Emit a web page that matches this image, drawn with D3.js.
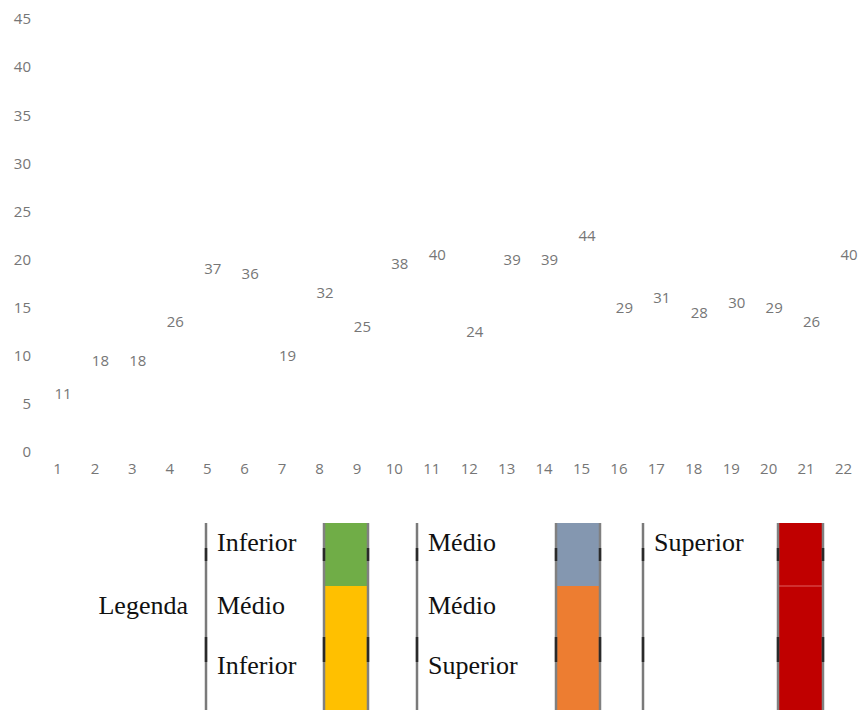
<!DOCTYPE html>
<html>
<head>
<meta charset="utf-8">
<script src="https://cdn.jsdelivr.net/npm/d3@7"></script>
<style>
  body { margin: 0; background: #fff; }
  svg { display: block; }
</style>
</head>
<body>
<svg id="chart" width="868" height="710"></svg>
<script>
// categories on the x axis
var categories = ["1","2","3","4","5","6","7","8","9","10","11","12","13","14","15","16","17","18","19","20","21","22"];
// plotted position of each point
var pointValues = [5.5, 9, 9, 13, 18.5, 18, 9.5, 16, 12.5, 19, 20, 12, 19.5, 19.5, 22, 14.5, 15.5, 14, 15, 14.5, 13, 20];
// text shown as the data label
var pointLabels = ["11","18","18","26","37","36","19","32","25","38","40","24","39","39","44","29","31","28","30","29","26","40"];
// y axis ticks
var yTicks = [0, 5, 10, 15, 20, 25, 30, 35, 40, 45];

// legend: column texts and bar colours (top, bottom)
var legendTitle = "Legenda";
var legendTexts = [
    ["Inferior", "Médio", "Inferior"],
    ["Médio", "Médio", "Superior"],
    ["Superior", "", ""]
];
var legendColors = [
    ["#70ad47", "#ffc000"],
    ["#8497b0", "#ed7d31"],
    ["#c00000", "#c00000"]
];

chart();

function chart() {
    var svg = d3.select("#chart");

    var x = d3.scalePoint()
        .domain(categories)
        .range([57, 843]);

    var y = d3.scaleLinear()
        .domain([0, 45])
        .range([452, 19]);

    // y axis, only the labels are visible
    var yAxis = svg.append("g")
        .attr("transform", "translate(31,0)")
        .call(d3.axisLeft(y).tickValues(yTicks).tickSize(0).tickPadding(0));
    yAxis.select(".domain").remove();
    yAxis.selectAll("text")
        .attr("font-family", "Open Sans, sans-serif")
        .attr("font-size", 15)
        .attr("fill", "#767676");

    // x axis, labels only
    var xAxis = svg.append("g")
        .attr("transform", "translate(0,463)")
        .call(d3.axisBottom(x).tickSize(0).tickPadding(0));
    xAxis.select(".domain").remove();
    xAxis.selectAll("text")
        .attr("font-family", "Open Sans, sans-serif")
        .attr("font-size", 15)
        .attr("fill", "#767676");

    // data labels (markers are hidden in the original)
    var pts = categories.map((c, i) => ({cat: c, v: pointValues[i], label: pointLabels[i]}));
    svg.append("g").selectAll("text")
        .data(pts)
        .enter().append("text")
        .attr("x", d => x(d.cat) + 6)
        .attr("y", d => y(d.v) - 5)
        .attr("dy", "0.35em")
        .attr("text-anchor", "middle")
        .attr("font-family", "Open Sans, sans-serif")
        .attr("font-size", 15)
        .attr("fill", "#767676")
        .text(d => d.label);

    // legend
    var lg = svg.append("g").attr("font-family", "Liberation Serif, Times New Roman, serif");
    var rowY = [542, 605, 665];
    var top = 523, mid = 586, bottom = 712;
    var colLine = [206, 417, 643];
    var barX = [[324, 368], [556, 600], [778, 823]];
    var darkMarks = [[548, 561], [637, 662]];

    lg.append("text")
        .attr("x", 188).attr("y", rowY[1])
        .attr("dy", "0.35em")
        .attr("text-anchor", "end")
        .attr("font-size", 26)
        .attr("fill", "#111")
        .text(legendTitle);

    legendTexts.forEach(function(texts, c) {
        var g = lg.append("g");
        // separator line
        g.append("line")
            .attr("x1", colLine[c]).attr("x2", colLine[c])
            .attr("y1", top).attr("y2", bottom)
            .attr("stroke", "#7a7a7a").attr("stroke-width", 2.5);
        darkMarks.forEach(function(m) {
            g.append("line")
                .attr("x1", colLine[c]).attr("x2", colLine[c])
                .attr("y1", m[0]).attr("y2", m[1])
                .attr("stroke", "#2a2a2a").attr("stroke-width", 2.5);
        });
        g.selectAll("text")
            .data(texts)
            .enter().append("text")
            .attr("x", colLine[c] + 11)
            .attr("y", (d, i) => rowY[i])
            .attr("dy", "0.35em")
            .attr("font-size", 26)
            .attr("fill", "#111")
            .text(d => d);

        // colour bar
        var bx0 = barX[c][0], bx1 = barX[c][1];
        g.append("rect")
            .attr("x", bx0).attr("y", top)
            .attr("width", bx1 - bx0).attr("height", mid - top)
            .attr("fill", legendColors[c][0]);
        g.append("rect")
            .attr("x", bx0).attr("y", mid)
            .attr("width", bx1 - bx0).attr("height", bottom - mid)
            .attr("fill", legendColors[c][1]);
        if (legendColors[c][0] === legendColors[c][1]) {
            g.append("line")
                .attr("x1", bx0).attr("x2", bx1)
                .attr("y1", mid).attr("y2", mid)
                .attr("stroke", "#e06060").attr("stroke-width", 1);
        }
        [bx0, bx1].forEach(function(bx) {
            g.append("line")
                .attr("x1", bx).attr("x2", bx)
                .attr("y1", top).attr("y2", bottom)
                .attr("stroke", "#808080").attr("stroke-width", 2.5);
            darkMarks.forEach(function(m) {
                g.append("line")
                    .attr("x1", bx).attr("x2", bx)
                    .attr("y1", m[0]).attr("y2", m[1])
                    .attr("stroke", "#2a2a2a").attr("stroke-width", 2.5);
            });
        });
    });
}
</script>
</body>
</html>
